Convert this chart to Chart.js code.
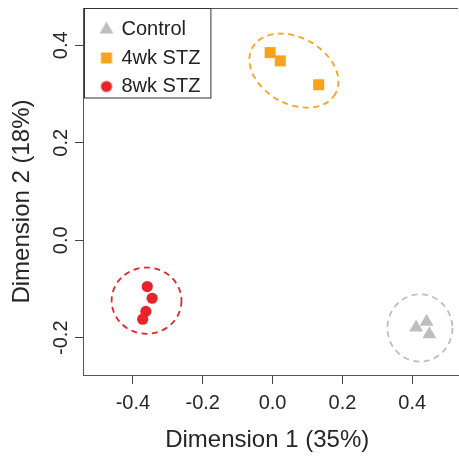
<!DOCTYPE html>
<html>
<head>
<meta charset="utf-8">
<script src="https://cdn.jsdelivr.net/npm/chart.js@4/dist/chart.umd.min.js"></script>
<style>
  html, body { margin: 0; padding: 0; background: #fff; overflow: hidden; }
  canvas { display: block; }
</style>
</head>
<body>
<canvas id="canvas" width="466" height="458"></canvas>
<script>
var groups = ['Control', '4wk STZ', '8wk STZ'];
var groupColors = ['#bebebe', '#f8a31c', '#e8232a'];
var groupStyles = ['triangle', 'rect', 'circle'];
var groupRadius = [8, 7.8, 5.6];

var controlX = [0.411, 0.441, 0.449];
var controlY = [-0.179, -0.167, -0.193];
var stz4X = [-0.007, 0.022, 0.132];
var stz4Y = [0.385, 0.368, 0.319];
var stz8X = [-0.359, -0.345, -0.363, -0.372];
var stz8Y = [-0.095, -0.119, -0.146, -0.162];

// dashed group ellipses: centre and radii in data units, tilt in degrees
var ellipseCx = [0.422, 0.061, -0.361];
var ellipseCy = [-0.180, 0.348, -0.124];
var ellipseRx = [0.093, 0.136, 0.100];
var ellipseRy = [0.069, 0.068, 0.068];
var ellipseTilt = [0, 29, 0];

var xTicks = [-0.4, -0.2, 0.0, 0.2, 0.4];
var yTicks = [-0.2, 0.0, 0.2, 0.4];

function toPoints(xs, ys) {
	return xs.map(function(x, i) { return { x: x, y: ys[i] }; });
}

// small canvas holding one legend symbol, nudged right by `shift`
function legendMarker(i, shift) {
	var size = Math.ceil(groupRadius[i] * 2 + 2);
	var c = document.createElement('canvas');
	c.width = size + 2 * shift;
	c.height = size;
	var g = c.getContext('2d');
	g.fillStyle = groupColors[i];
	Chart.helpers.drawPoint(g, { pointStyle: groupStyles[i], radius: groupRadius[i], borderWidth: 0 }, c.width / 2 + shift, size / 2);
	return c;
}

Chart.defaults.font.family = '"Liberation Sans", Arial, sans-serif';
Chart.defaults.color = '#262626';

var ellipsePlugin = {
	id: 'ellipses',
	beforeDatasetsDraw: function(chart) {
		var ctx = chart.ctx;
		var xs = chart.scales.x, ys = chart.scales.y;
		ctx.save();
		ctx.lineWidth = 1.8;
		ctx.setLineDash([6, 4.5]);
		for (var i = 0; i < ellipseCx.length; i++) {
			var px = xs.getPixelForValue(ellipseCx[i]);
			var py = ys.getPixelForValue(ellipseCy[i]);
			var rx = Math.abs(xs.getPixelForValue(ellipseCx[i] + ellipseRx[i]) - px);
			var ry = Math.abs(ys.getPixelForValue(ellipseCy[i] + ellipseRy[i]) - py);
			ctx.strokeStyle = groupColors[i];
			ctx.beginPath();
			ctx.ellipse(px, py, rx, ry, ellipseTilt[i] * Math.PI / 180, 0, Math.PI * 2);
			ctx.stroke();
		}
		ctx.restore();
	}
};

var framePlugin = {
	id: 'frame',
	afterDraw: function(chart) {
		var ctx = chart.ctx;
		var area = chart.chartArea;
		ctx.save();
		ctx.strokeStyle = '#555';
		ctx.lineWidth = 1;
		ctx.beginPath();
		ctx.moveTo(area.left, area.top + 0.5);
		ctx.lineTo(area.right, area.top + 0.5);
		ctx.stroke();

		// box round the legend, like R's legend()
		var boxes = chart.legend.legendHitBoxes;
		var right = 0, bottom = 0;
		boxes.forEach(function(b) {
			right = Math.max(right, b.left + b.width);
			bottom = Math.max(bottom, b.top + b.height);
		});
		ctx.strokeStyle = '#333';
		ctx.strokeRect(area.left + 1.5, area.top + 0.5, right + 9 - area.left, bottom + 1 - area.top);
		ctx.restore();
	}
};

var datasets = [[controlX, controlY], [stz4X, stz4Y], [stz8X, stz8Y]].map(function(d, i) {
	return {
		label: groups[i],
		data: toPoints(d[0], d[1]),
		pointStyle: groupStyles[i],
		pointRadius: groupRadius[i],
		backgroundColor: groupColors[i],
		borderWidth: 0
	};
});

var config = {
	type: 'scatter',
	data: { datasets: datasets },
	options: {
		responsive: false,
		animation: false,
		devicePixelRatio: 1,
		layout: { padding: { top: 6, right: 0, bottom: 0, left: 0 } },
		plugins: {
			tooltip: { enabled: false },
			legend: {
				position: 'chartArea',
				align: 'start',
				title: { display: true, text: '', font: { size: 1 }, padding: { top: 9.8, bottom: 0 } },
				labels: {
					usePointStyle: true,
					boxWidth: 20,
					boxHeight: 9,
					padding: 8.5,
					color: '#222',
					font: { size: 20 },
					generateLabels: function(chart) {
						var items = Chart.defaults.plugins.legend.labels.generateLabels(chart);
						items.forEach(function(item) {
							item.pointStyle = legendMarker(item.datasetIndex, 5);
						});
						return items;
					}
				}
			}
		},
		scales: {
			x: {
				type: 'linear',
				min: -0.543,
				max: 0.531,
				afterFit: function(scale) { scale.height = 83; },
				afterBuildTicks: function(scale) {
					scale.ticks = xTicks.map(function(v) { return { value: v }; });
				},
				grid: { drawOnChartArea: false, drawTicks: true, tickLength: 9, color: '#444' },
				border: { display: true, color: '#555', width: 1 },
				ticks: {
					padding: 7,
					maxRotation: 0,
					color: '#262626',
					font: { size: 20 },
					callback: function(v) { return Number(v).toFixed(1); }
				},
				title: {
					display: true,
					text: 'Dimension 1 (35%) ',
					color: '#262626',
					font: { size: 24 },
					padding: { top: 0, bottom: 3 }
				}
			},
			y: {
				type: 'linear',
				min: -0.2765,
				max: 0.4765,
				afterFit: function(scale) { scale.width = 83; },
				afterBuildTicks: function(scale) {
					scale.ticks = yTicks.map(function(v) { return { value: v }; });
				},
				grid: { drawOnChartArea: false, drawTicks: true, tickLength: 8, color: '#444' },
				border: { display: true, color: '#555', width: 1 },
				ticks: {
					padding: -4,
					minRotation: 90,
					maxRotation: 90,
					crossAlign: 'center',
					color: '#262626',
					font: { size: 20 },
					callback: function(v) { return Number(v).toFixed(1); }
				},
				title: {
					display: true,
					text: 'Dimension 2 (18%)   ',
					color: '#262626',
					font: { size: 24 },
					padding: { top: 8, bottom: 0 }
				}
			}
		}
	},
	plugins: [ellipsePlugin, framePlugin]
};

var ctx = document.getElementById('canvas').getContext('2d');
var mychart = new Chart(ctx, config);
</script>
</body>
</html>
